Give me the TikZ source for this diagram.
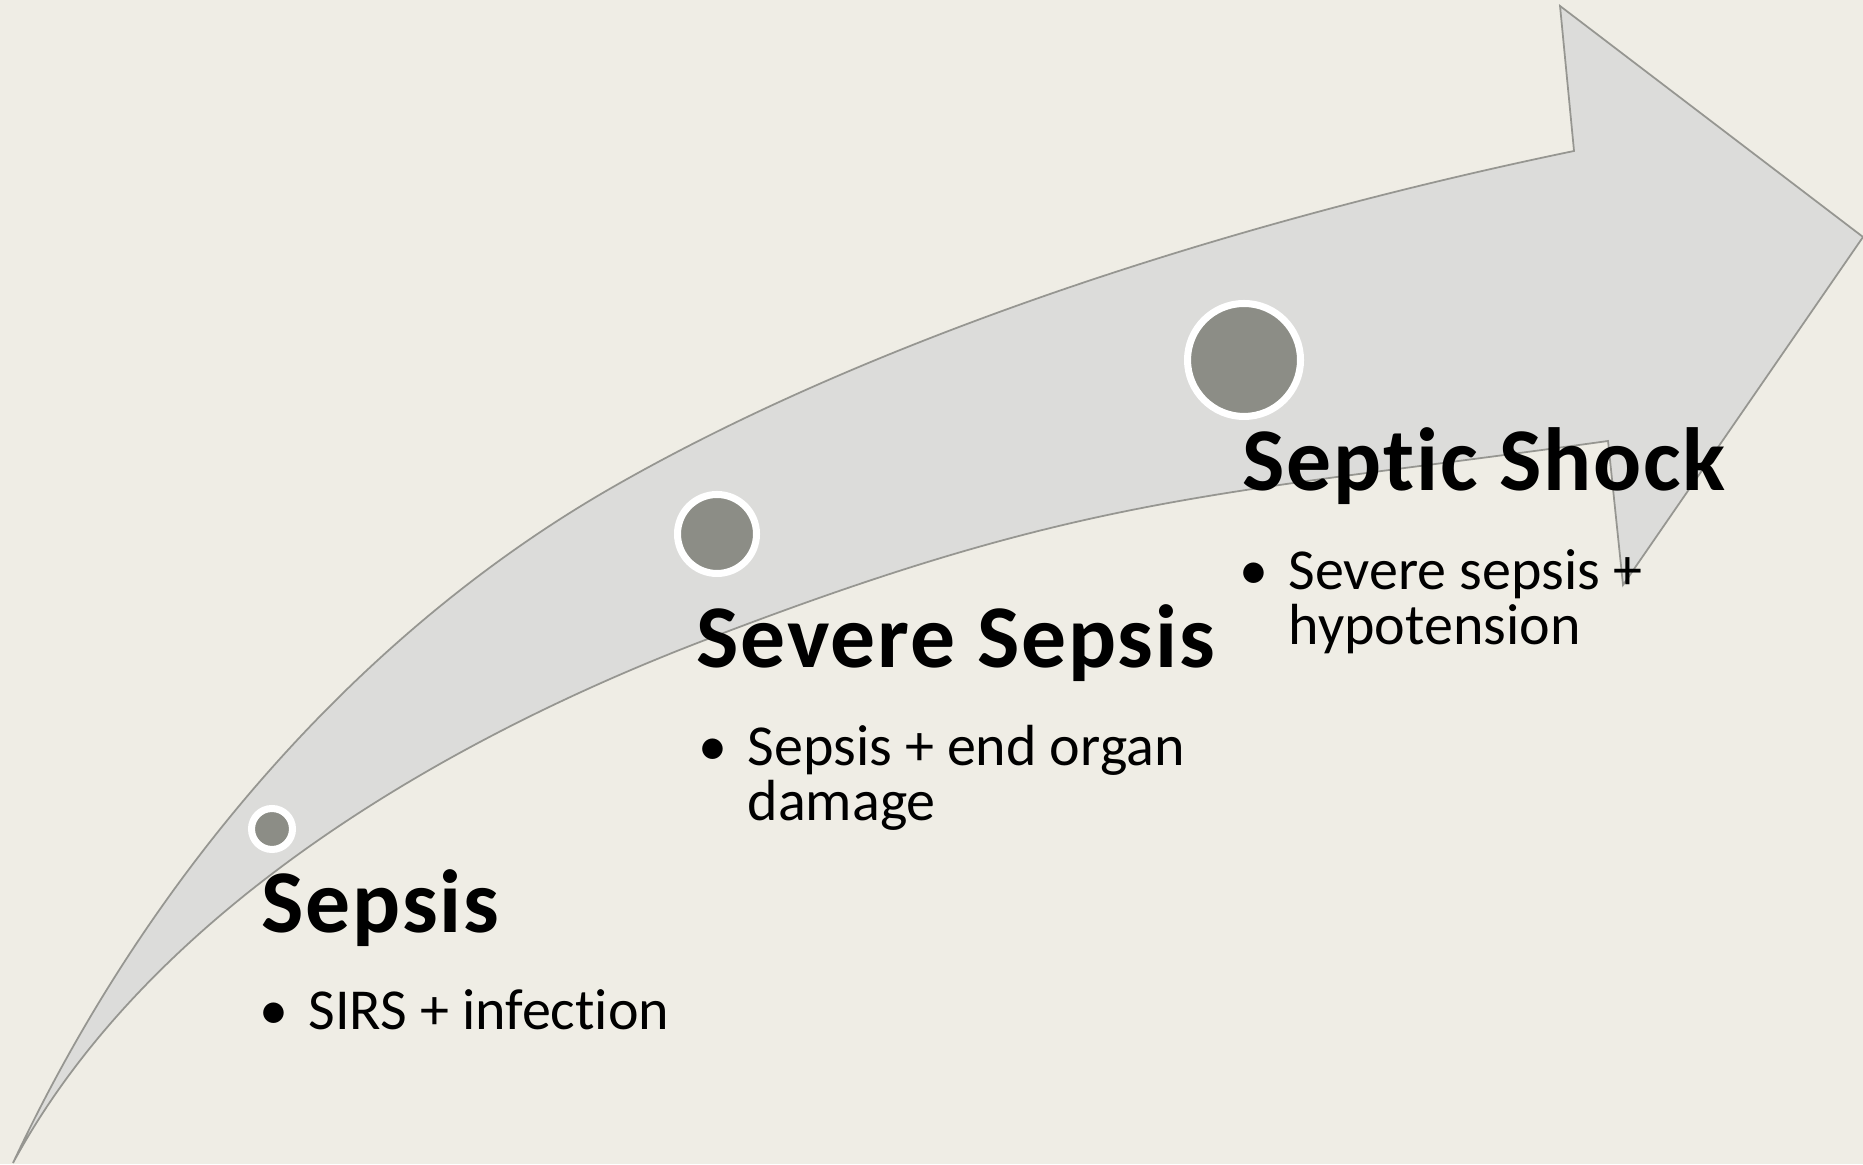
\documentclass[tikz,border=0pt]{standalone}
\usepackage{fontspec}
\setmainfont{Carlito}[Ligatures=NoCommon]
\newfontfamily\headfont{Carlito}[Ligatures=NoCommon, LetterSpace=2.0]
\usepackage{tikz}
\usetikzlibrary{positioning}

\definecolor{slidebg}{RGB}{239,237,229}
\definecolor{arrowfill}{RGB}{220,220,218}
\definecolor{arrowedge}{RGB}{150,150,145}
\definecolor{dotgray}{RGB}{140,141,134}

\begin{document}
\begin{tikzpicture}[
    stage/.style={circle, fill=dotgray, draw=white, line width=2pt, inner sep=0pt},
    title/.style={anchor=base west, inner sep=0pt, font=\headfont\fontsize{25.5}{30}\selectfont\bfseries},
    item/.style={anchor=base west, inner sep=0pt, font=\fontsize{16.5}{13.2}\selectfont},
    bigarrow/.style={fill=arrowfill, draw=arrowedge, line width=0.5pt, line join=miter}
]

% --- Background ---
\fill[slidebg] (0,0) rectangle (18.63,11.64);
\useasboundingbox (0,0) rectangle (18.63,11.64);

% --- Curved arrow ---
\draw[bigarrow] (0.13,0.01)
    .. controls (1.53,3.00) and (3.70,5.38) .. (6.13,6.77)
    .. controls (8.73,8.26) and (12.31,9.42) .. (15.74,10.13)
    -- (15.60,11.58) -- (18.63,9.27) -- (16.23,5.79) -- (16.08,7.23)
    .. controls (12.12,6.68) and (10.87,6.70) .. (7.13,5.27)
    .. controls (4.33,4.21) and (1.46,2.47) .. cycle;

% --- Stage dots ---
\foreach \i/\pos/\size in {1/{(2.72,3.35)}/0.41, 2/{(7.17,6.30)}/0.79, 3/{(12.44,8.04)}/1.13}
    \node[stage, minimum size=\size cm] (stage\i) at \pos {};

% --- Stage titles ---
\node[title] (title1) at (2.61,2.31) {Sepsis};
\node[title] (title2) at (6.96,4.96) {Severe Sepsis};
\node[title] (title3) at (12.42,6.73) {Septic Shock};

% --- Stage items ---
\node[item] (item1) at (3.08,1.34) {\begin{tabular}[t]{@{}l@{}}\llap{\textbullet\hspace{0.2cm}}SIRS + infection\end{tabular}};
\node[item] (item2) at (7.47,3.98) {\begin{tabular}[t]{@{}l@{}}\llap{\textbullet\hspace{0.2cm}}Sepsis + end organ\\damage\end{tabular}};
\node[item] (item3) at (12.88,5.74) {\begin{tabular}[t]{@{}l@{}}\llap{\textbullet\hspace{0.2cm}}Severe sepsis +\\hypotension\end{tabular}};

\end{tikzpicture}
\end{document}
